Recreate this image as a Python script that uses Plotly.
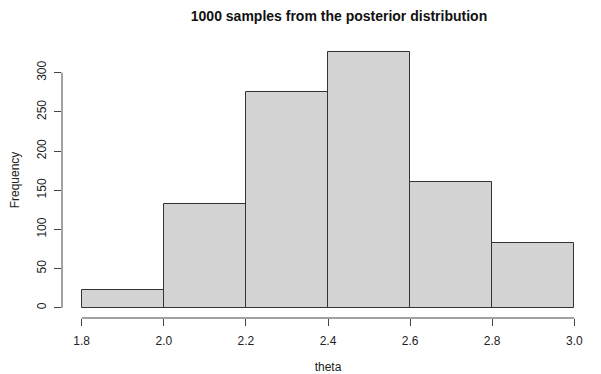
import plotly.graph_objects as go

bin_edges = [1.8, 2.0, 2.2, 2.4, 2.6, 2.8, 3.0]
counts = [23, 132, 275, 326, 161, 83]
x_ticks = [1.8, 2.0, 2.2, 2.4, 2.6, 2.8, 3.0]
x_tick_labels = ["1.8", "2.0", "2.2", "2.4", "2.6", "2.8", "3.0"]
y_ticks = [0, 50, 100, 150, 200, 250, 300]

centers = [(a + b) / 2 for a, b in zip(bin_edges[:-1], bin_edges[1:])]
widths = [b - a for a, b in zip(bin_edges[:-1], bin_edges[1:])]

FONT = "Liberation Sans, Arial, Helvetica, sans-serif"
AX = "#444444"

# the page body has an 8px default margin, so the figure is offset by 8px
OFF = 8
W, H = 601 - OFF, 374 - OFF

fig = go.Figure()
fig.add_trace(go.Bar(
    x=centers, y=counts, width=widths,
    marker=dict(color="#D3D3D3", line=dict(color="#333333", width=1)),
    hoverinfo="x+y",
))

xmin, xmax = bin_edges[0], bin_edges[-1]
xpad = (xmax - xmin) * 0.04
ymax = max(counts)
ypad = ymax * 0.04

fig.update_layout(
    width=W, height=H,
    margin=dict(l=62 - OFF, r=7, t=42 - OFF, b=56, pad=0),
    paper_bgcolor="white", plot_bgcolor="white",
    showlegend=False,
    bargap=0,
    font=dict(family=FONT, size=12, color="#222222"),
    title=dict(text="<b>1000 samples from the posterior distribution</b>",
               x=(339 - OFF) / W, xanchor="center", y=1 - (16.5 - OFF) / H, yanchor="middle",
               font=dict(size=14, color="#111111")),
    xaxis=dict(range=[xmin - xpad, xmax + xpad], tickvals=x_ticks, ticktext=x_tick_labels,
               showgrid=False, zeroline=False, showline=False, automargin=False,
               ticks="outside", ticklen=7, tickcolor=AX, tickwidth=1,
               ticklabelstandoff=5,
               title=dict(text="theta", font=dict(size=12), standoff=15)),
    yaxis=dict(range=[-ypad, ymax + ypad], tickvals=y_ticks,
               showgrid=False, zeroline=False, showline=False, automargin=False,
               ticks="outside", ticklen=7, tickcolor=AX, tickwidth=1,
               tickangle=-90, ticklabelstandoff=3,
               title=dict(text="Frequency", font=dict(size=12), standoff=14)),
)

# R-style axis lines spanning only the tick range
fig.add_shape(type="line", xref="paper", yref="y", x0=0, x1=0, y0=y_ticks[0], y1=y_ticks[-1],
              line=dict(color=AX, width=1))
fig.add_shape(type="line", xref="x", yref="paper", x0=x_ticks[0], x1=x_ticks[-1], y0=0, y1=0,
              line=dict(color=AX, width=1))

fig.write_html("out.html")
